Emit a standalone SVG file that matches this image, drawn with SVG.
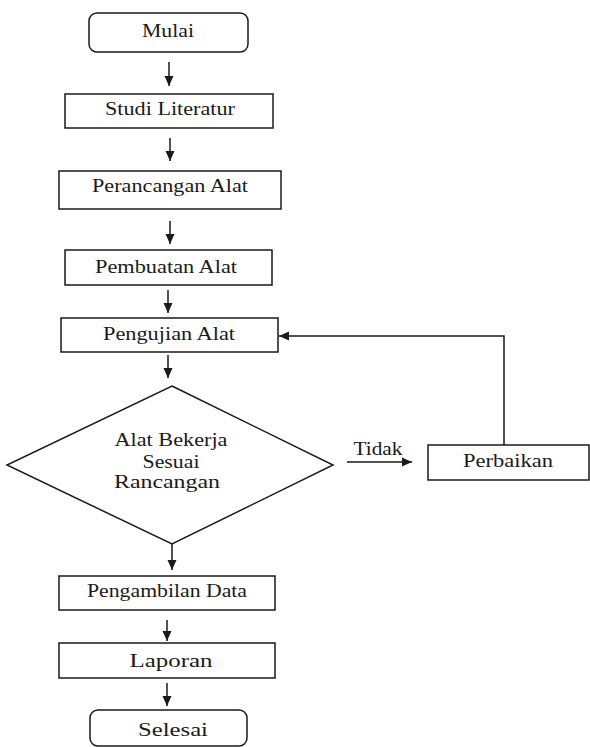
<svg xmlns="http://www.w3.org/2000/svg" width="590" height="747" viewBox="0 0 590 747">
<style>
.box{fill:#fff;stroke:#1a1a1a;stroke-width:1.5}
.t{font-family:"Liberation Serif","DejaVu Serif","Times New Roman",serif;font-size:18px;fill:#1a1a1a;text-anchor:middle}
.c{fill:none;stroke:#1a1a1a;stroke-width:1.5}
</style>
<defs>
<marker id="ah" markerUnits="userSpaceOnUse" markerWidth="10" markerHeight="10" viewBox="0 0 10 10" refX="10" refY="5" orient="auto">
<path d="M0,0.5 L10,5 L0,9.5 Z" fill="#1a1a1a"/>
</marker>
</defs>
<rect width="590" height="747" fill="#fff"/>
<g id="mulai"><rect class="box" x="89" y="13" width="159" height="39" rx="8"/><text class="t" x="168" y="37" textLength="52" lengthAdjust="spacingAndGlyphs">Mulai</text></g>
<g id="studi"><rect class="box" x="65" y="94" width="208" height="34"/><text class="t" x="170" y="115" textLength="130" lengthAdjust="spacingAndGlyphs">Studi Literatur</text></g>
<g id="perancangan"><rect class="box" x="59" y="171" width="222" height="38"/><text class="t" x="170" y="192" textLength="156" lengthAdjust="spacingAndGlyphs">Perancangan Alat</text></g>
<g id="pembuatan"><rect class="box" x="65" y="250" width="207" height="35"/><text class="t" x="166" y="273" textLength="142" lengthAdjust="spacingAndGlyphs">Pembuatan Alat</text></g>
<g id="pengujian"><rect class="box" x="61" y="318" width="217" height="34"/><text class="t" x="169" y="340" textLength="132" lengthAdjust="spacingAndGlyphs">Pengujian Alat</text></g>
<g id="keputusan"><polygon class="box" points="172,386 333,465 172,544 7,465"/>
<text class="t" x="171" y="446" textLength="113" lengthAdjust="spacingAndGlyphs">Alat Bekerja</text>
<text class="t" x="171" y="468" textLength="57" lengthAdjust="spacingAndGlyphs">Sesuai</text>
<text class="t" x="167" y="488" textLength="106" lengthAdjust="spacingAndGlyphs">Rancangan</text></g>
<g id="perbaikan"><rect class="box" x="428" y="445" width="161" height="35"/><text class="t" x="508" y="467" textLength="90" lengthAdjust="spacingAndGlyphs">Perbaikan</text></g>
<g id="pengambilan"><rect class="box" x="59" y="576" width="216" height="34"/><text class="t" x="167" y="597" textLength="160" lengthAdjust="spacingAndGlyphs">Pengambilan Data</text></g>
<g id="laporan"><rect class="box" x="59" y="643" width="216" height="35"/><text class="t" x="171" y="667" textLength="83" lengthAdjust="spacingAndGlyphs">Laporan</text></g>
<g id="selesai"><rect class="box" x="90" y="710" width="157" height="36" rx="8"/><text class="t" x="173" y="736" textLength="70" lengthAdjust="spacingAndGlyphs">Selesai</text></g>
<g id="connectors">
<path class="c" d="M169,62 V86" marker-end="url(#ah)"/>
<path class="c" d="M170,138 V161" marker-end="url(#ah)"/>
<path class="c" d="M170,221 V244" marker-end="url(#ah)"/>
<path class="c" d="M168,290 V313" marker-end="url(#ah)"/>
<path class="c" d="M168,355 V378" marker-end="url(#ah)"/>
<path class="c" d="M172,544 V570" marker-end="url(#ah)"/>
<path class="c" d="M167,620 V641" marker-end="url(#ah)"/>
<path class="c" d="M167,683 V706" marker-end="url(#ah)"/>
<path class="c" d="M347,462 H412" marker-end="url(#ah)"/>
<path class="c" d="M504,445 V336 H279" marker-end="url(#ah)"/>
<text class="t" x="378" y="455" textLength="49" lengthAdjust="spacingAndGlyphs">Tidak</text>
</g>
</svg>
